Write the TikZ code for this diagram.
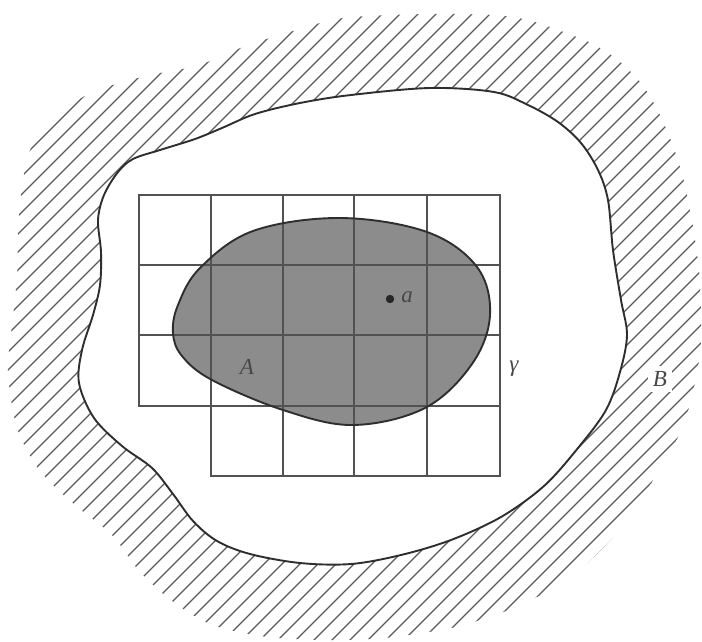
\documentclass[tikz,border=0pt]{standalone}
\usepackage{fontspec}
\setmainfont{Liberation Serif}
\begin{document}
\begin{tikzpicture}[x=1pt,y=-1pt,
  hatch/.style={line width=1.15pt, draw=black!65},
  boundary/.style={line width=1.9pt, draw=black!82},
  gridline/.style={line width=1.2pt, draw=black!68},
  blobline/.style={draw=black!82, line width=1.9pt},
  lbl/.style={font=\fontsize{23}{27}\selectfont\itshape, text=black!72, inner sep=1pt}]
\useasboundingbox (0,0) rectangle (702,642);
% hatched band
\begin{scope}
\clip plot[smooth cycle] coordinates {(13,317) (17,277) (18,233) (21,195) (30,150) (55,118) (83,97) (113,85) (150,75) (187,68) (213,60) (243,47) (273,37) (297,30) (343,18) (420,14) (494,15) (528,20) (558,30) (591,43) (618,60) (641,83) (656,107) (668,133) (678,160) (686,190) (694,233) (700,283) (700,354) (684,424) (658,471) (628,521) (571,578) (528,601) (498,614) (451,628) (384,638) (320,640) (260,636) (210,624) (172,601) (140,572) (112,535) (75,505) (40,471) (17,428) (8,371)};
\foreach \c in {0,18,...,1350} \draw[hatch] (\c,0) -- (0,\c);
\end{scope}
% white region
\path[fill=white, boundary] plot[smooth cycle, tension=0.55] coordinates {(98,220) (104,195) (118,172) (133,159) (160,150) (195,139) (222,128) (255,114) (300,103) (351,95) (430,88) (494,92) (528,105) (558,122) (581,143) (598,170) (608,200) (613,250) (621,300) (627,335) (620,372) (606,410) (578,448) (544,486) (501,517) (451,540) (401,555) (351,564) (300,563) (250,554) (217,541) (193,521) (173,494) (152,468) (122,446) (94,418) (79,383) (82,350) (93,315) (100,285) (101,252)};
% set A
\fill[black!45] plot[smooth cycle, tension=0.6] coordinates {(173,333) (178,305) (200,268) (253,231) (340,218) (427,232) (477,267) (490,315) (472,364) (425,408) (353,425) (283,410) (212,380) (182,356)};
% grid
\draw[gridline] (139,195) rectangle (500,406);
\draw[gridline] (211,406) rectangle (500,476);
\foreach \x in {211,283,354,427} \draw[gridline] (\x,195) -- (\x,476);
\foreach \y in {265,335} \draw[gridline] (139,\y) -- (500,\y);
\draw[blobline] plot[smooth cycle, tension=0.6] coordinates {(173,333) (178,305) (200,268) (253,231) (340,218) (427,232) (477,267) (490,315) (472,364) (425,408) (353,425) (283,410) (212,380) (182,356)};
% labels
\fill[black!85] (390,299) circle (4.2);
\node[lbl] (la) at (407,297) {a};
\node[lbl] (lA) at (247,367) {A};
\node[lbl] (lg) at (514,369) {γ};
\node[lbl, fill=white, inner sep=5pt] (lB) at (660,379) {B};
\end{tikzpicture}
\end{document}
